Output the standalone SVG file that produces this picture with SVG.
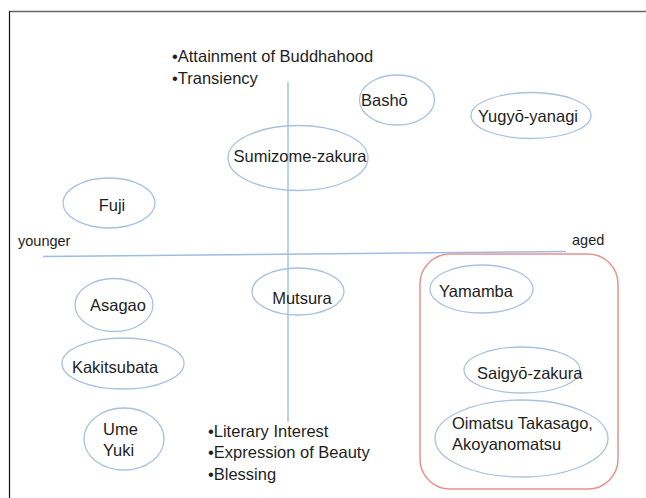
<svg xmlns="http://www.w3.org/2000/svg" width="646" height="498" viewBox="0 0 646 498">
<style>
  text { font-family: "Liberation Sans", Arial, sans-serif; font-size: 16.5px; fill: #1e1e1e; }
  .lbl { text-anchor: middle; }
  .small { font-size: 14.5px; }
  .node { fill: #ffffff; stroke: #a9c1de; stroke-width: 1.3; }
  .clear { fill: none; }
  .axis { stroke: #9dbde3; stroke-width: 1.4; fill: none; }
  .group { fill: none; stroke: #ea9090; stroke-width: 1.5; }
</style>
<rect width="646" height="498" fill="#ffffff"/>
<g id="frame">
  <line x1="9" y1="11.5" x2="646" y2="11.5" stroke="#666" stroke-width="1.6"/>
  <line x1="9.5" y1="11" x2="9.5" y2="498" stroke="#111" stroke-width="1.2"/>
</g>
<g id="aged-group">
  <rect class="group" x="420" y="254" width="198" height="235" rx="30" ry="30"/>
</g>
<g id="connectors">
  <line class="axis" x1="43" y1="256.5" x2="566" y2="251.5"/>
  <line class="axis" x1="288" y1="82" x2="288" y2="422"/>
</g>
<g id="axis-labels">
  <text class="small" x="18" y="246">younger</text>
  <text class="small" x="572" y="245">aged</text>
</g>
<g id="top-themes">
  <text x="172" y="62">•Attainment of Buddhahood</text>
  <text x="172" y="84">•Transiency</text>
</g>
<g id="bottom-themes">
  <text x="208" y="437">•Literary Interest</text>
  <text x="208" y="458">•Expression of Beauty</text>
  <text x="208" y="480">•Blessing</text>
</g>
<g id="basho">
  <ellipse class="node" cx="397" cy="100" rx="37.5" ry="25"/>
  <text x="361" y="106">Bashō</text>
</g>
<g id="yugyo-yanagi">
  <ellipse class="node" cx="531" cy="115.5" rx="60" ry="23"/>
  <text class="lbl" x="528" y="122">Yugyō-yanagi</text>
</g>
<g id="sumizome-zakura">
  <ellipse class="node clear" cx="298" cy="158" rx="70" ry="32.5"/>
  <text class="lbl" x="300" y="162">Sumizome-zakura</text>
</g>
<g id="fuji">
  <ellipse class="node" cx="109" cy="203" rx="46" ry="25"/>
  <text class="lbl" x="112" y="211">Fuji</text>
</g>
<g id="asagao">
  <ellipse class="node" cx="114" cy="305" rx="39" ry="26.5"/>
  <text class="lbl" x="118" y="311">Asagao</text>
</g>
<g id="mutsura">
  <ellipse class="node clear" cx="298" cy="291.5" rx="46" ry="23.5"/>
  <text class="lbl" x="302" y="304">Mutsura</text>
</g>
<g id="kakitsubata">
  <ellipse class="node" cx="123" cy="363.5" rx="61" ry="25.5"/>
  <text class="lbl" x="115" y="373">Kakitsubata</text>
</g>
<g id="ume-yuki">
  <ellipse class="node" cx="124" cy="439" rx="40" ry="31"/>
  <text x="103" y="435">Ume</text>
  <text x="103" y="456">Yuki</text>
</g>
<g id="yamamba">
  <ellipse class="node" cx="481.5" cy="289" rx="51.5" ry="24"/>
  <text x="439" y="297">Yamamba</text>
</g>
<g id="saigyo-zakura">
  <ellipse class="node" cx="522" cy="370" rx="58" ry="23"/>
  <text x="477" y="379">Saigyō-zakura</text>
</g>
<g id="oimatsu">
  <ellipse class="node" cx="521.5" cy="438.5" rx="86.5" ry="38.5"/>
  <text x="452" y="429">Oimatsu Takasago,</text>
  <text x="452" y="450">Akoyanomatsu</text>
</g>
</svg>
